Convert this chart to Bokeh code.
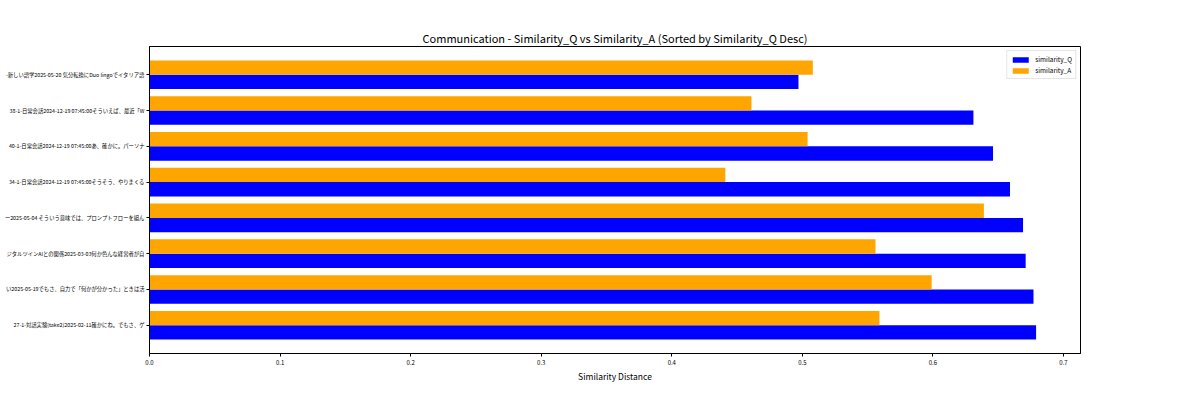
from bokeh.plotting import figure
from bokeh.models import ColumnDataSource, Range1d, FactorRange, FixedTicker, Legend, LegendItem
from bokeh.transform import dodge
from bokeh.embed import file_html
from bokeh.resources import INLINE

labels = [
    "-新しい語学2025-05-20 気分転換にDuo lingoでイタリア語",
    "38-1-日常会話2024-12-19 07:45:00そういえば、最近「W",
    "40-1-日常会話2024-12-19 07:45:00あ、確かに。パーソナ",
    "34-1-日常会話2024-12-19 07:45:00そうそう、やりまくる",
    "ー2025-05-04 そういう意味では、プロンプトフローを組ん",
    "ジタルツインAIとの関係2025-03-03何か色んな経営者が自",
    "い2025-05-19でもさ、自力で「何かが分かった」ときは活",
    "27-1-対話実験(take2)2025-02-11確かにね。でもさ、ゲ",
]
similarity_q = [0.497, 0.631, 0.646, 0.659, 0.669, 0.671, 0.677, 0.679]
similarity_a = [0.508, 0.461, 0.504, 0.441, 0.639, 0.556, 0.599, 0.559]
x_ticks = [0.0, 0.1, 0.2, 0.3, 0.4, 0.5, 0.6, 0.7]
x_tick_labels = ["0.0", "0.1", "0.2", "0.3", "0.4", "0.5", "0.6", "0.7"]

FONT = "Noto Sans CJK JP"

src = ColumnDataSource(dict(label=labels, q=similarity_q, a=similarity_a))

p = figure(
    width=1184, height=384,
    y_range=FactorRange(factors=labels[::-1], range_padding=0.29, range_padding_units="absolute"),
    x_range=Range1d(0, 0.713),
    output_backend="svg", toolbar_location=None,
    title="Communication - Similarity_Q vs Similarity_A (Sorted by Similarity_Q Desc)",
    min_border_left=149, min_border_right=104, min_border_top=46, min_border_bottom=28,
)

rq = p.hbar(y=dodge("label", -0.2, range=p.y_range), right="q", left=0, height=0.4,
            source=src, fill_color="#0000ff", line_color=None)
ra = p.hbar(y=dodge("label", 0.2, range=p.y_range), right="a", left=0, height=0.4,
            source=src, fill_color="#ffa500", line_color=None)

legend = Legend(items=[LegendItem(label="similarity_Q", renderers=[rq]),
                       LegendItem(label="similarity_A", renderers=[ra])],
                location="top_right")
legend.label_text_font = FONT
legend.label_text_font_size = "6.5px"
legend.label_text_color = "#000000"
legend.label_height = 8
legend.glyph_height = 7
legend.glyph_width = 20
legend.spacing = 1
legend.padding = 3
legend.margin = 4
legend.border_line_color = "#cccccc"
legend.border_line_width = 1
legend.label_standoff = 5
p.add_layout(legend)

p.title.align = "center"
p.title.text_font = FONT
p.title.text_font_size = "11px"
p.title.text_font_style = "normal"
p.title.text_color = "#000000"
p.title.standoff = 2

p.xgrid.visible = False
p.ygrid.visible = False
p.outline_line_color = "#000000"
p.outline_line_width = 1

p.xaxis.ticker = FixedTicker(ticks=x_ticks)
p.xaxis.major_label_overrides = {t: s for t, s in zip(x_ticks, x_tick_labels)}
p.xaxis.axis_label = "Similarity Distance"
p.xaxis.axis_label_text_font = FONT
p.xaxis.axis_label_text_font_size = "8.5px"
p.xaxis.axis_label_text_font_style = "normal"
p.xaxis.axis_label_text_color = "#000000"
p.xaxis.axis_label_standoff = 2
p.xaxis.minor_tick_line_color = None

for ax in (p.xaxis, p.yaxis):
    ax.major_label_text_font = FONT
    ax.major_label_text_font_size = "6px"
    ax.major_label_text_color = "#000000"
    ax.axis_line_color = "#000000"
    ax.major_tick_line_color = "#000000"
    ax.major_tick_out = 3
    ax.major_tick_in = 0
    ax.major_label_standoff = 3

p.yaxis.major_label_text_font_size = "5.3px"
p.yaxis.major_label_standoff = 2

open("out.html", "w").write(file_html(p, INLINE))
